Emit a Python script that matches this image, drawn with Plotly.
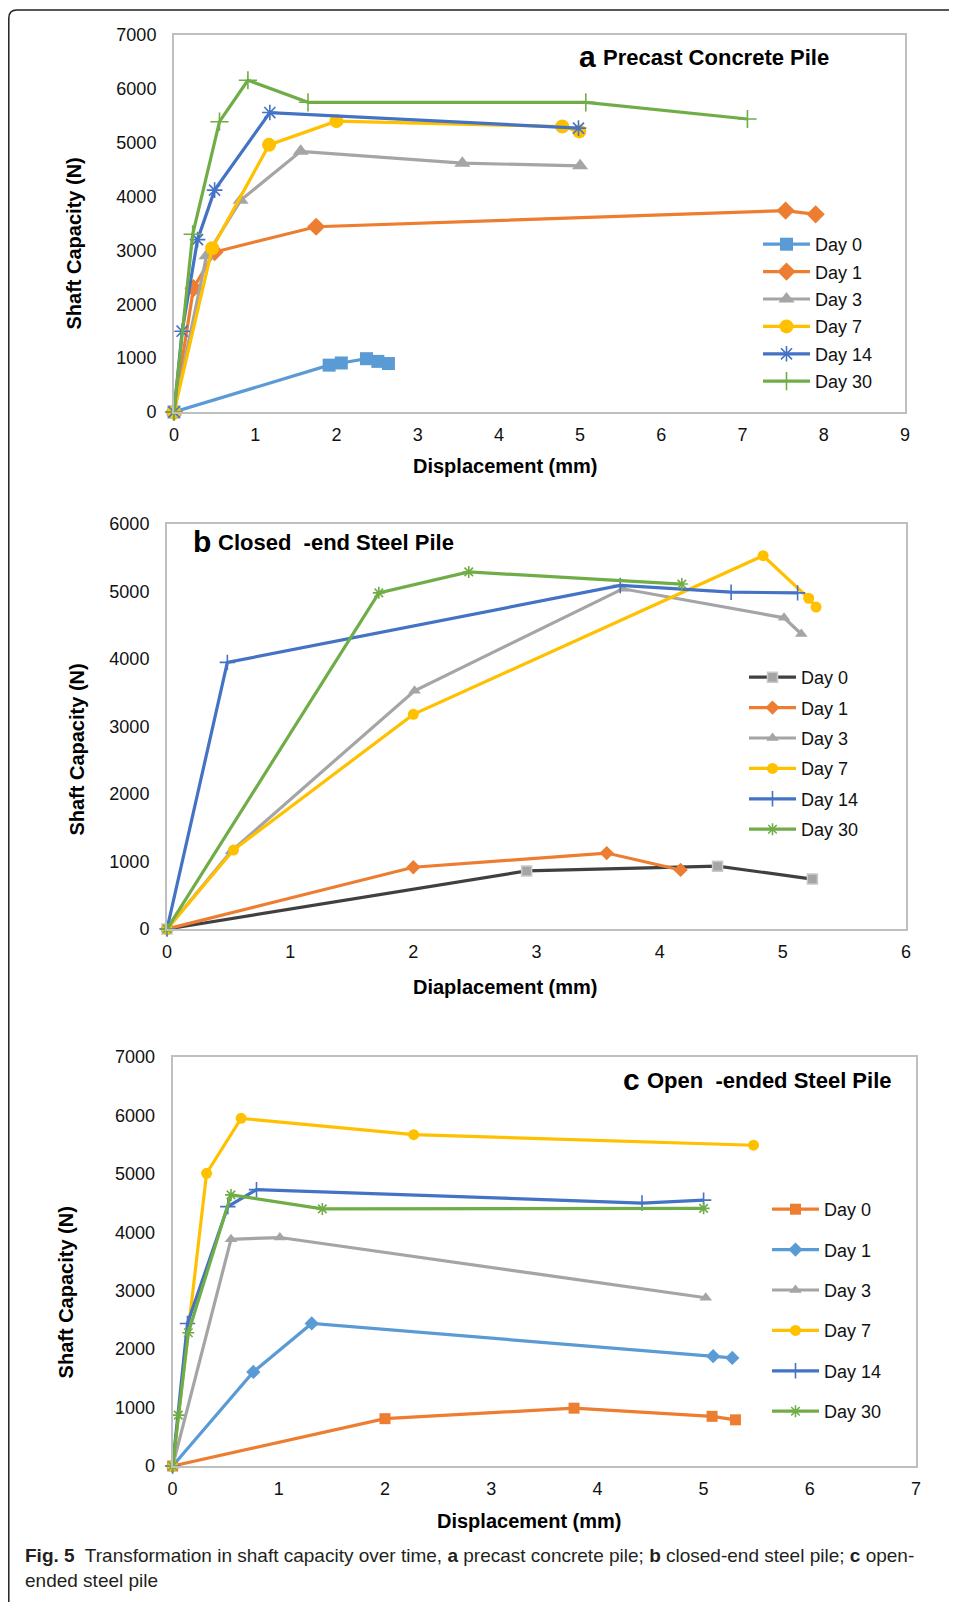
import plotly.graph_objects as go

# ---------------- data ----------------
days = ["Day 0", "Day 1", "Day 3", "Day 7", "Day 14", "Day 30"]

# (a) Precast concrete pile
a_d0_x = [0, 1.91, 2.06, 2.37, 2.51, 2.64]
a_d0_y = [0, 870, 910, 990, 940, 900]
a_d1_x = [0, 0.24, 0.5, 1.75, 7.53, 7.9]
a_d1_y = [0, 2300, 2970, 3440, 3740, 3670]
a_d3_x = [0, 0.4, 0.82, 1.56, 3.55, 5.0]
a_d3_y = [0, 2900, 3930, 4840, 4620, 4570]
a_d7_x = [0, 0.47, 1.17, 2.0, 4.78, 4.99]
a_d7_y = [0, 3040, 4960, 5400, 5300, 5210]
a_d14_x = [0, 0.1, 0.29, 0.5, 1.18, 4.98]
a_d14_y = [0, 1500, 3200, 4120, 5560, 5270]
a_d30_x = [0, 0.23, 0.56, 0.91, 1.65, 5.07, 7.06]
a_d30_y = [0, 3300, 5390, 6160, 5750, 5750, 5440]

# (b) Closed-end steel pile
b_d0_x = [0, 2.92, 4.47, 5.24]
b_d0_y = [0, 860, 930, 740]
b_d1_x = [0, 2.0, 3.57, 4.17]
b_d1_y = [0, 915, 1125, 875]
b_d3_x = [0, 0.52, 2.01, 3.70, 5.01, 5.15]
b_d3_y = [0, 1150, 3530, 5040, 4610, 4370]
b_d7_x = [0, 0.54, 2.0, 4.84, 5.21, 5.27]
b_d7_y = [0, 1170, 3180, 5530, 4900, 4770]
b_d14_x = [0, 0.49, 3.68, 4.58, 5.12]
b_d14_y = [0, 3950, 5090, 4990, 4980]
b_d30_x = [0, 1.72, 2.45, 4.18]
b_d30_y = [0, 4980, 5290, 5110]

# (c) Open-ended steel pile
c_d0_x = [0, 2.0, 3.78, 5.08, 5.3]
c_d0_y = [0, 810, 990, 850, 790]
c_d1_x = [0, 0.76, 1.31, 5.09, 5.27]
c_d1_y = [0, 1610, 2440, 1880, 1850]
c_d3_x = [0, 0.55, 1.01, 5.02]
c_d3_y = [0, 3880, 3910, 2880]
c_d7_x = [0, 0.32, 0.645, 2.27, 5.47]
c_d7_y = [0, 5010, 5950, 5670, 5490]
c_d14_x = [0, 0.14, 0.52, 0.79, 4.42, 5.0]
c_d14_y = [0, 2440, 4440, 4730, 4500, 4550]
c_d30_x = [0, 0.054, 0.148, 0.55, 1.41, 5.0]
c_d30_y = [0, 870, 2280, 4640, 4400, 4410]

a_ticks_x = [0, 1, 2, 3, 4, 5, 6, 7, 8, 9]
a_ticks_y = [0, 1000, 2000, 3000, 4000, 5000, 6000, 7000]
b_ticks_x = [0, 1, 2, 3, 4, 5, 6]
b_ticks_y = [0, 1000, 2000, 3000, 4000, 5000, 6000]
c_ticks_x = [0, 1, 2, 3, 4, 5, 6, 7]
c_ticks_y = [0, 1000, 2000, 3000, 4000, 5000, 6000, 7000]

# ---------------- styling ----------------
# the page body has an 8px margin, so the figure is sized to fit the window
OX, OY = 8, 8
W, H = 949, 1594
def px(x):
    return (x - OX) / W
def py(y):
    return 1 - (y - OY) / H

BLUE = "#5B9BD5"
ORANGE = "#ED7D31"
GRAY = "#A5A5A5"
GOLD = "#FFC000"
DBLUE = "#4472C4"
GREEN = "#70AD47"
DARK = "#404040"

FONT = "Liberation Sans, Arial, Helvetica, sans-serif"

fig = go.Figure()

def add(x, y, name, color, symbol, size, xa, ya, legend, mcolor=None, mline=None):
    open_sym = symbol.endswith("-open")
    marker = dict(symbol=symbol, size=size, color=mcolor or color)
    if open_sym:
        marker["line"] = dict(color=mcolor or color, width=1.6)
    elif mline:
        marker["line"] = dict(color=mline, width=1.5)
    else:
        marker["line"] = dict(width=0)
    fig.add_trace(go.Scatter(
        x=x, y=y, name=name, mode="lines+markers",
        line=dict(color=color, width=3.2), marker=marker,
        xaxis=xa, yaxis=ya, legend=legend, legendgroup=legend + name,
        cliponaxis=False, showlegend=True))

pa = [
    (a_d0_x, a_d0_y, BLUE, "square", 13, None, None),
    (a_d1_x, a_d1_y, ORANGE, "diamond", 14, None, None),
    (a_d3_x, a_d3_y, GRAY, "triangle-up", 14, None, None),
    (a_d7_x, a_d7_y, GOLD, "circle", 14, None, None),
    (a_d14_x, a_d14_y, DBLUE, "asterisk-open", 13, None, None),
    (a_d30_x, a_d30_y, GREEN, "cross-thin-open", 13, None, None),
]
for (x, y, c, s, sz, mc, ml), n in zip(pa, days):
    add(x, y, n, c, s, sz, "x", "y", "legend", mc, ml)

pb = [
    (b_d0_x, b_d0_y, DARK, "square", 10, GRAY, "#C9C9C9"),
    (b_d1_x, b_d1_y, ORANGE, "diamond", 11, None, None),
    (b_d3_x, b_d3_y, GRAY, "triangle-up", 11, None, None),
    (b_d7_x, b_d7_y, GOLD, "circle", 11, None, None),
    (b_d14_x, b_d14_y, DBLUE, "cross-thin-open", 11, None, None),
    (b_d30_x, b_d30_y, GREEN, "asterisk-open", 10, None, None),
]
for (x, y, c, s, sz, mc, ml), n in zip(pb, days):
    add(x, y, n, c, s, sz, "x2", "y2", "legend2", mc, ml)

pc = [
    (c_d0_x, c_d0_y, ORANGE, "square", 11, None, None),
    (c_d1_x, c_d1_y, BLUE, "diamond", 11, None, None),
    (c_d3_x, c_d3_y, GRAY, "triangle-up", 11, None, None),
    (c_d7_x, c_d7_y, GOLD, "circle", 11, None, None),
    (c_d14_x, c_d14_y, DBLUE, "cross-thin-open", 11, None, None),
    (c_d30_x, c_d30_y, GREEN, "asterisk-open", 10, None, None),
]
for (x, y, c, s, sz, mc, ml), n in zip(pc, days):
    add(x, y, n, c, s, sz, "x3", "y3", "legend3", mc, ml)

AXCOL = "#BFBFBF"
def axis(domain, rng, ticks, anchor, ticklen):
    return dict(domain=domain, range=rng, tickvals=ticks, ticktext=[str(t) for t in ticks],
                showgrid=False, zeroline=False, showline=True, linecolor=AXCOL,
                linewidth=2, mirror=True, ticks="outside", ticklen=ticklen,
                tickcolor="rgba(0,0,0,0)", anchor=anchor, automargin=False,
                tickfont=dict(family=FONT, size=18, color="#111111"))

fig.update_layout(
    width=W, height=H, margin=dict(l=0, r=0, t=0, b=0, pad=0, autoexpand=False),
    paper_bgcolor="white", plot_bgcolor="white",
    xaxis=axis([px(174), px(905)], [0, 9], a_ticks_x, "y", 5),
    yaxis=axis([py(412), py(35)], [0, 7000], a_ticks_y, "x", 12),
    xaxis2=axis([px(167), px(906)], [0, 6], b_ticks_x, "y2", 5),
    yaxis2=axis([py(929), py(524)], [0, 6000], b_ticks_y, "x2", 12),
    xaxis3=axis([px(172.6), px(916)], [0, 7], c_ticks_x, "y3", 5),
    yaxis3=axis([py(1466), py(1057)], [0, 7000], c_ticks_y, "x3", 12),
)

def leg(x, y, gap):
    return dict(x=px(x), y=py(y), xanchor="left", yanchor="top",
                bgcolor="rgba(0,0,0,0)", traceorder="grouped", tracegroupgap=gap,
                font=dict(family=FONT, size=18, color="#111111"), itemwidth=47)

fig.update_layout(legend=leg(758, 226, 1), legend2=leg(744, 659, 4),
                  legend3=leg(767, 1191, 14))

ann = []
def txt(x, y, s, size, bold=True, xanchor="left", angle=0, yanchor="middle"):
    ann.append(dict(x=px(x), y=py(y), xref="paper", yref="paper", text=(f"<b>{s}</b>" if bold else s),
                    showarrow=False, xanchor=xanchor, yanchor=yanchor, textangle=angle,
                    font=dict(family=FONT, size=size, color="#000000")))

# panel titles
txt(577, 56, "a", 30)
txt(601, 58, "Precast Concrete Pile", 22)
txt(191, 541, "b", 30)
txt(216, 543, "Closed\u00a0 -end Steel Pile", 22)
txt(621, 1079, "c", 30)
txt(645, 1080, "Open\u00a0 -ended Steel Pile", 22)

# axis titles
txt(505.6, 465.7, "Displacement (mm)", 20, xanchor="center")
txt(73.5, 244, "Shaft Capacity (N)", 20, xanchor="center", angle=-90)
txt(505.6, 986.6, "Diaplacement (mm)", 20, xanchor="center")
txt(76.6, 750, "Shaft Capacity (N)", 20, xanchor="center", angle=-90)
txt(529, 1520.8, "Displacement (mm)", 20, xanchor="center")
txt(66.4, 1292, "Shaft Capacity (N)", 20, xanchor="center", angle=-90)

# caption
ann.append(dict(
    x=px(23), y=py(1543), xref="paper", yref="paper", showarrow=False,
    xanchor="left", yanchor="top", align="left",
    text=("<b>Fig. 5</b>\u00a0 Transformation in shaft capacity over time, <b>a</b> precast concrete pile; "
          "<b>b</b> closed-end steel pile; <b>c</b> open-<br>ended steel pile"),
    font=dict(family=FONT, size=19, color="#231F20")))
fig.update_layout(annotations=ann)

# outer frame (top and left edges with rounded corner)
fig.add_shape(type="path", xref="paper", yref="paper",
              path=f"M {px(8.8)},0 L {px(8.8)},{py(18)} Q {px(8.8)},{py(10)} {px(17)},{py(10)} L 1,{py(10)}",
              line=dict(color="#231F20", width=1.5))

fig.write_html("out.html")
